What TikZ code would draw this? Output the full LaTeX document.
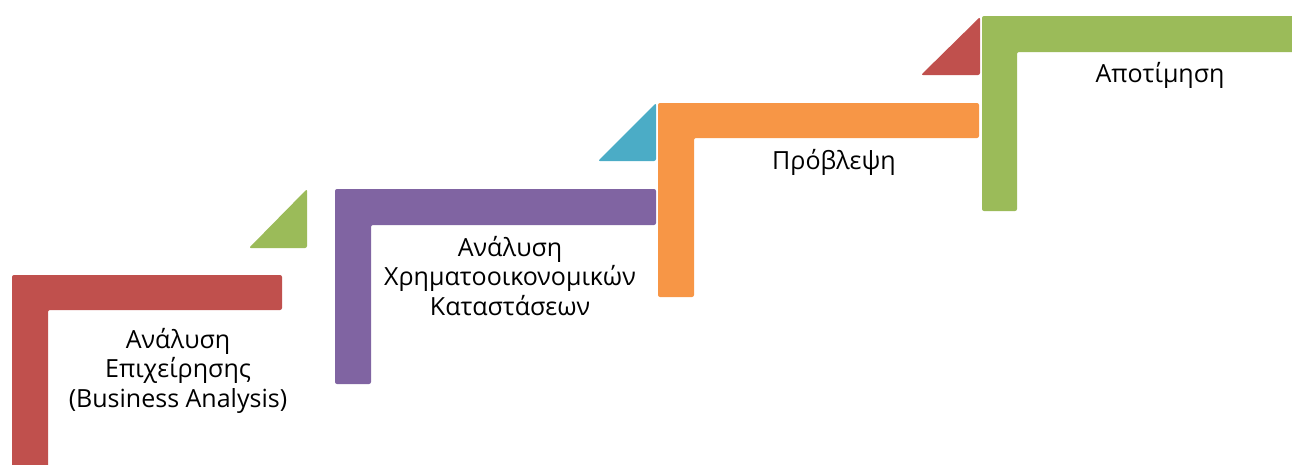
\documentclass[tikz,border=0pt]{standalone}
\usepackage{fontspec}
\setmainfont{Open Sans}
\definecolor{stepred}{HTML}{C0504D}
\definecolor{stepgreen}{HTML}{9BBB59}
\definecolor{steppurple}{HTML}{8064A2}
\definecolor{stepblue}{HTML}{4BACC6}
\definecolor{steporange}{HTML}{F79646}
\tikzset{
  stair/.style={rounded corners=2pt},
  label/.style={anchor=base, align=center, inner sep=0pt,
    font=\fontsize{25}{29.3}\selectfont, text=black}
}
\begin{document}
\begin{tikzpicture}[x=1pt,y=-1pt]
\useasboundingbox (0,0) rectangle (1292,464);
\clip (0,0) rectangle (1292,464);

% stair 1
\fill[stepred,stair] (12,275) -- (282,275) -- (282,310) -- (48,310) -- (48,480) -- (12,480) -- cycle;
\fill[stepgreen,stair] (249,248) -- (307,248) -- (307,189) -- cycle;
% the base anchor of a multi-line label sits on its last line
\node[label] (t1) at (178,407) {Ανάλυση\\Επιχείρησης\\(Business Analysis)};

% stair 2
\fill[steppurple,stair] (335,189) -- (656,189) -- (656,225) -- (371,225) -- (371,384) -- (335,384) -- cycle;
\fill[stepblue,stair] (598,161) -- (656,161) -- (656,103) -- cycle;
\node[label] (t2) at (510,315) {Ανάλυση\\Χρηματοοικονομικών\\Καταστάσεων};

% stair 3
\fill[steporange,stair] (658,103) -- (979,103) -- (979,138) -- (694,138) -- (694,297) -- (658,297) -- cycle;
\fill[stepred,stair] (921,75) -- (980,75) -- (980,17) -- cycle;
\node[label] (t3) at (834,169) {Πρόβλεψη};

% stair 4
\fill[stepgreen,stair] (982,16) -- (1310,16) -- (1310,52) -- (1017,52) -- (1017,211) -- (982,211) -- cycle;
\node[label] (t4) at (1160,82) {Αποτίμηση};
\end{tikzpicture}
\end{document}
